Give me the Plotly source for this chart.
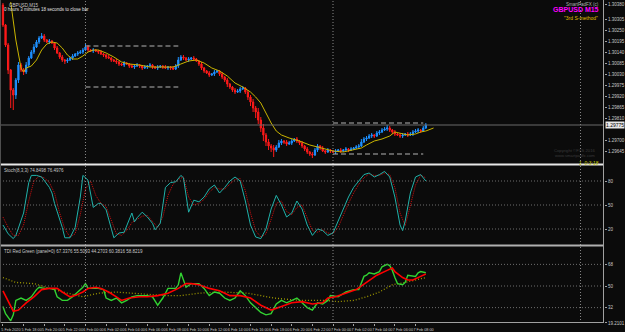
import plotly.graph_objects as go

# ---------------- data ----------------
closes = [
    1.30275, 1.30175, 1.30050, 1.29950, 1.29925, 1.30000, 1.30075, 1.30050, 1.30040, 1.30075,
    1.30110, 1.30140, 1.30165, 1.30190, 1.30210, 1.30220, 1.30200, 1.30190, 1.30195, 1.30185,
    1.30160, 1.30135, 1.30115, 1.30100, 1.30095, 1.30100, 1.30110, 1.30120, 1.30130, 1.30135,
    1.30140, 1.30150, 1.30165, 1.30150, 1.30145, 1.30150, 1.30145, 1.30140, 1.30130, 1.30125,
    1.30115, 1.30110, 1.30100, 1.30095, 1.30090, 1.30080, 1.30075, 1.30085, 1.30080, 1.30070,
    1.30065, 1.30070, 1.30075, 1.30070, 1.30060, 1.30065, 1.30070, 1.30075, 1.30065, 1.30060,
    1.30065, 1.30070, 1.30065, 1.30060, 1.30065, 1.30060, 1.30055, 1.30070, 1.30100, 1.30115,
    1.30110, 1.30100, 1.30105, 1.30110, 1.30105, 1.30095, 1.30080, 1.30060, 1.30045, 1.30035,
    1.30025, 1.30030, 1.30040, 1.30045, 1.30030, 1.30015, 1.30000, 1.29980, 1.29965, 1.29950,
    1.29940, 1.29945, 1.29955, 1.29960, 1.29940, 1.29915, 1.29890, 1.29860, 1.29840, 1.29800,
    1.29760, 1.29725, 1.29690, 1.29670, 1.29660, 1.29650, 1.29665, 1.29685, 1.29695, 1.29690,
    1.29680, 1.29685, 1.29695, 1.29705, 1.29695, 1.29685, 1.29670, 1.29655, 1.29640, 1.29630,
    1.29625, 1.29650, 1.29670, 1.29660, 1.29645, 1.29640, 1.29650, 1.29645, 1.29640, 1.29645,
    1.29650, 1.29645, 1.29650, 1.29655, 1.29650, 1.29655, 1.29660, 1.29665, 1.29670, 1.29690,
    1.29705, 1.29710, 1.29720, 1.29725, 1.29720, 1.29735, 1.29740, 1.29750, 1.29755, 1.29760,
    1.29750, 1.29740, 1.29730, 1.29725, 1.29720, 1.29725, 1.29730, 1.29725, 1.29730, 1.29740,
    1.29745, 1.29750, 1.29745, 1.29760, 1.29775]
first_open = 1.30375

upper_wick_pips = [
    1, 0.5, 1, 0.5, 1, 1, 1.5, 1, 1, 1.5,
    1, 1, 1.5, 1, 1, 1.5, 1, 0.5, 1, 0.5,
    0.5, 1, 0.5, 1, 0.5, 1, 0.5, 1, 0.5, 1,
    1, 1, 1.5, 1, 0.5, 1, 0.5, 0.5, 1, 0.5,
    0.5, 1, 0.5, 0.5, 1, 0.5, 0.5, 1, 0.5, 0.5,
    1, 0.5, 1, 0.5, 0.5, 1, 0.5, 1, 0.5, 0.5,
    1, 0.5, 0.5, 1, 0.5, 0.5, 1, 1, 1.5, 1,
    1, 0.5, 1, 0.5, 1, 0.5, 0.5, 1, 0.5, 0.5,
    1, 0.5, 1, 0.5, 0.5, 1, 0.5, 1, 0.5, 0.5,
    1, 1, 1, 1, 0.5, 1, 1, 1.5, 1, 2,
    1.5, 2, 1, 1.5, 1, 1.5, 1, 1.5, 1, 0.5,
    1, 1, 1, 0.5, 1, 0.5, 1, 0.5, 1, 0.5,
    1, 1, 1, 0.5, 1, 0.5, 1, 0.5, 0.5, 1,
    0.5, 1, 0.5, 1, 0.5, 1, 0.5, 1, 1, 1.5,
    1, 1, 1, 1, 0.5, 1, 1, 1, 1, 1.5,
    1, 0.5, 1, 0.5, 1, 1, 0.5, 1, 1, 1,
    1, 1, 0.5, 1, 1]
lower_wick_pips = [
    1, 1, 2, 9, 7.5, 2, 1.5, 1, 1.5, 1,
    1, 0.5, 1, 0.5, 1, 0.5, 1, 0.5, 1, 0.5,
    1, 0.5, 1, 1, 1.5, 1, 0.5, 1, 0.5, 1,
    0.5, 1, 0.5, 1, 0.5, 1, 0.5, 1, 0.5, 1,
    1, 0.5, 1, 0.5, 1, 1, 0.5, 1, 0.5, 1,
    0.5, 1, 0.5, 1, 1, 0.5, 1, 0.5, 1, 0.5,
    1, 0.5, 1, 0.5, 1, 1, 0.5, 0.5, 1, 0.5,
    1, 0.5, 1, 0.5, 1, 0.5, 1, 1, 1, 0.5,
    1, 0.5, 1, 0.5, 1, 1, 1, 1.5, 1, 1,
    1, 0.5, 1, 0.5, 1, 1.5, 2, 2, 3, 2,
    2, 3, 2, 2, 2, 3.5, 1, 0.5, 1, 1,
    1, 0.5, 1, 0.5, 1, 1, 1, 1, 1, 1,
    1.5, 0.5, 1, 1, 0.5, 1, 0.5, 1, 0.5, 1,
    0.5, 1, 0.5, 0.5, 1, 0.5, 0.5, 0.5, 1, 0.5,
    0.5, 1, 0.5, 1, 1, 0.5, 1, 0.5, 0.5, 1,
    1, 1, 1, 0.5, 1, 1, 0.5, 1, 0.5, 1,
    0.5, 1, 1, 0.5, 0.5]

ma_bars = [3, 5, 7, 8, 9, 11, 13, 15, 17, 19, 21, 23, 25, 27, 29, 31, 33, 35, 37, 40,
           43, 46, 49, 53, 57, 62, 66, 69, 72, 75, 78, 81, 84, 87, 90, 93, 96, 98, 100,
           102, 104, 106, 108, 111, 115, 119, 124, 128, 132, 136, 139, 141, 144, 147, 150,
           152, 154, 157, 160, 162, 164, 167]
ma_values = [1.30390, 1.30200, 1.30060, 1.30040, 1.30060, 1.30070, 1.30100, 1.30150, 1.30180,
             1.30190, 1.30185, 1.30160, 1.30125, 1.30105, 1.30105, 1.30120, 1.30140, 1.30150,
             1.30150, 1.30135, 1.30115, 1.30090, 1.30080, 1.30075, 1.30065, 1.30065, 1.30065,
             1.30080, 1.30095, 1.30100, 1.30085, 1.30060, 1.30045, 1.30020, 1.29985, 1.29965,
             1.29940, 1.29915, 1.29885, 1.29835, 1.29785, 1.29745, 1.29725, 1.29710, 1.29695,
             1.29675, 1.29660, 1.29645, 1.29640, 1.29650, 1.29660, 1.29675, 1.29695, 1.29705,
             1.29720, 1.29740, 1.29735, 1.29725, 1.29730, 1.29740, 1.29745, 1.29760]

stoch_k_bars = [0, 2, 4, 5, 8, 10, 11, 13, 15, 18, 19, 20, 23, 24, 26, 28, 30, 31, 33, 34,
                35, 37, 38, 40, 42, 43, 45, 47, 50, 51, 52, 54, 56, 58, 59, 61, 63, 65, 67,
                69, 70, 72, 74, 76, 78, 80, 82, 84, 86, 88, 90, 92, 94, 96, 98, 100, 102, 104,
                106, 108, 110, 112, 114, 116, 118, 120, 122, 124, 126, 128, 130, 132, 134, 136,
                138, 140, 142, 144, 146, 148, 150, 152, 154, 155, 156, 158, 160, 162, 164]
stoch_k = [25, 14, 8, 12, 40, 78, 87, 87, 85, 72, 65, 52, 22, 9, 9, 22, 60, 87, 81, 65,
           47, 52, 52, 44, 19, 9, 15, 16, 40, 29, 34, 41, 35, 27, 19, 27, 72, 78, 79,
           87, 84, 41, 56, 54, 60, 70, 75, 65, 72, 80, 85, 80, 55, 25, 10, 8, 20, 45,
           62, 50, 35, 40, 55, 45, 25, 12, 20, 18, 12, 15, 30, 45, 60, 72,
           80, 88, 90, 85, 88, 92, 85, 60, 25, 18, 30, 65, 85, 88, 80]
stoch_d_bars = [0, 2, 4, 6, 8, 10, 12, 14, 16, 18, 20, 22, 24, 26, 28, 30, 32, 34, 36, 38,
                40, 42, 44, 46, 48, 50, 52, 54, 56, 58, 60, 62, 64, 66, 68, 70, 72, 74, 76,
                78, 80, 82, 84, 86, 88, 90, 92, 94, 96, 98, 100, 102, 104, 106, 108, 110, 112,
                114, 116, 118, 120, 122, 124, 126, 128, 130, 132, 134, 136, 138, 140, 142, 144,
                146, 148, 150, 152, 154, 156, 158, 160, 162, 164]
stoch_d = [35, 22, 12, 12, 25, 55, 80, 86, 84, 78, 65, 40, 20, 10, 14, 38, 70, 80, 62, 52,
           48, 32, 14, 12, 18, 28, 32, 36, 37, 30, 22, 35, 62, 76, 82, 85, 60, 50, 52,
           57, 66, 72, 70, 70, 76, 82, 83, 68, 40, 18, 10, 14, 32, 52, 55, 42, 38,
           47, 50, 35, 18, 16, 19, 15, 14, 22, 38, 52, 65, 76, 84, 89, 87,
           87, 90, 88, 72, 40, 24, 48, 75, 87, 84]

tdi_rsi_bars = [0, 1, 3, 4, 5, 7, 9, 11, 13, 14, 16, 18, 20, 21, 23, 25, 27, 29, 31, 32,
                33, 35, 37, 39, 40, 42, 44, 46, 48, 50, 52, 54, 56, 58, 60, 62, 64, 67, 68,
                69, 71, 73, 76, 78, 80, 82, 84, 86, 88, 90, 92, 94, 96, 98, 100, 102, 104,
                106, 108, 110, 112, 114, 116, 118, 120, 122, 124, 126, 127, 129, 130, 133, 136,
                138, 140, 141, 142, 144, 145, 146, 147, 149, 150, 151, 152, 153, 155, 156, 157,
                159, 160, 161, 162, 164]
tdi_rsi = [33, 27, 21, 26, 38, 40, 38, 41, 47, 49, 48, 48, 47, 41, 38, 38, 41, 45, 49, 52,
           48, 48, 48, 47, 40, 38, 40, 36, 38, 41, 42, 42, 42, 41, 34, 40, 48, 48, 51,
           61, 49, 52, 52, 48, 42, 45, 44, 40, 38, 40, 46, 42, 36, 32, 28, 26, 27,
           35, 38, 36, 38, 40, 36, 32, 30, 36, 35, 38, 42, 41, 41, 45, 47,
           47, 58, 59, 61, 60, 61, 62, 66, 68, 67, 63, 57, 52, 51, 53, 59,
           58, 58, 61, 62, 61]
tdi_signal_bars = [0, 2, 4, 6, 9, 12, 15, 18, 21, 23, 26, 28, 31, 33, 36, 38, 41, 44, 46, 49,
                   53, 56, 60, 64, 68, 71, 73, 76, 80, 84, 88, 92, 96, 100, 104, 108, 112, 116,
                   120, 124, 126, 129, 133, 137, 141, 145, 149, 151, 152, 155, 157, 159, 162, 164]
tdi_signal = [46, 37, 29, 30, 36, 41, 47, 48, 48, 45, 41, 42, 45, 48, 49, 48, 45, 41, 38, 40,
              41, 41, 42, 44, 48, 52, 52, 51, 48, 46, 42, 42, 40, 34, 30, 33, 36, 37,
              35, 36, 40, 41, 44, 47, 53, 59, 63, 65, 62, 57, 55, 55, 58, 60]
tdi_base_bars = [0, 5, 12, 18, 25, 31, 37, 44, 50, 56, 63, 69, 76, 85, 95, 105, 115, 125, 130,
                 136, 141, 146, 151, 156, 160, 164]
tdi_base = [57, 53, 52, 48, 44, 41, 44, 45, 44, 43, 42, 42, 44, 45, 44, 40, 38, 38, 37,
            38, 41, 45, 51, 53, 55, 57]

price_ticks = [1.30380, 1.30305, 1.30250, 1.30195, 1.30140, 1.30085, 1.30030, 1.29975,
               1.29920, 1.29865, 1.29810, 1.29700, 1.29645]
stoch_levels = [80, 50, 20]
tdi_levels = [68, 50, 32]
tdi_extremes = [83.3094, 19.2101]

time_tick_bars = [0, 8, 16, 24, 32, 40, 48, 56, 64, 72, 80, 88, 96, 104, 112, 120, 128, 136,
                  144, 152, 160]
time_tick_labels = ["5 Feb 2020", "5 Feb 18:00", "5 Feb 20:00", "5 Feb 22:00", "6 Feb 00:00",
                    "6 Feb 02:00", "6 Feb 04:00", "6 Feb 06:00", "6 Feb 08:00", "6 Feb 10:00",
                    "6 Feb 12:00", "6 Feb 14:00", "6 Feb 16:00", "6 Feb 18:00", "6 Feb 20:00",
                    "6 Feb 22:00", "7 Feb 00:00", "7 Feb 02:00", "7 Feb 04:00", "7 Feb 06:00",
                    "7 Feb 08:00"]
day_separator_bars = [32, 128, 224]

box_ranges = [  # (start bar, end bar, high, low)
    (32, 68, 1.30170, 1.29965),
    (128, 163, 1.29785, 1.29630),
]

# ---------------- derived candle fields ----------------
bars = list(range(len(closes)))
opens = [first_open] + closes[:-1]
highs = [max(o, c) + u * 0.0001 for o, c, u in zip(opens, closes, upper_wick_pips)]
lows = [min(o, c) - l * 0.0001 for o, c, l in zip(opens, closes, lower_wick_pips)]
current_price = closes[-1]

# ---------------- layout geometry (pixels) ----------------
W, H = 625, 332
PW, PH = 610, 323  # plot area size


def fx(px):
    return px / PW


def fy(py):
    return (PH - py) / PH


BG = "#0b0b0b"
BLUE = "#1e90ff"
RED = "#ff1a1a"
TXT = "#c8c8c8"
FONT = "Liberation Sans"

fig = go.Figure()
fig.add_trace(go.Candlestick(
    x=bars, open=opens, high=highs, low=lows, close=closes,
    increasing=dict(line=dict(color=BLUE, width=1), fillcolor=BLUE),
    decreasing=dict(line=dict(color=RED, width=1), fillcolor=RED),
    whiskerwidth=0, xaxis="x", yaxis="y", showlegend=False))
fig.add_trace(go.Scatter(x=ma_bars, y=ma_values, mode="lines",
                         line=dict(color="#c9b400", width=1), yaxis="y", showlegend=False))

fig.add_trace(go.Scatter(x=stoch_d_bars, y=stoch_d, mode="lines",
                         line=dict(color="#d01010", width=1, dash="1px,1px"),
                         yaxis="y2", showlegend=False))
fig.add_trace(go.Scatter(x=stoch_k_bars, y=stoch_k, mode="lines",
                         line=dict(color="#20b2aa", width=1), yaxis="y2", showlegend=False))

fig.add_trace(go.Scatter(x=tdi_base_bars, y=tdi_base, mode="lines",
                         line=dict(color="#a09a00", width=1.3, dash="1px,2px"),
                         yaxis="y3", showlegend=False))
fig.add_trace(go.Scatter(x=tdi_rsi_bars, y=tdi_rsi, mode="lines",
                         line=dict(color="#32d232", width=1.4), yaxis="y3", showlegend=False))
fig.add_trace(go.Scatter(x=tdi_signal_bars, y=tdi_signal, mode="lines",
                         line=dict(color="#ff0000", width=1.6), yaxis="y3", showlegend=False))

shapes = []
grid_col = "#6e6e6e"
for lv in stoch_levels:
    shapes.append(dict(type="line", xref="paper", x0=0, x1=1, yref="y2", y0=lv, y1=lv,
                       line=dict(color=grid_col, width=1, dash="1px,2px")))
for lv in tdi_levels:
    shapes.append(dict(type="line", xref="paper", x0=0, x1=1, yref="y3", y0=lv, y1=lv,
                       line=dict(color=grid_col, width=1, dash="1px,2px")))
for b in day_separator_bars:
    shapes.append(dict(type="line", xref="x", x0=b, x1=b, yref="paper", y0=0, y1=1,
                       line=dict(color="#8a8a8a", width=1, dash="1px,2px")))
for (b0, b1, hi, lo) in box_ranges:
    for lv in (hi, lo):
        shapes.append(dict(type="line", xref="x", x0=b0, x1=b1, yref="y", y0=lv, y1=lv,
                           line=dict(color="#b4b4b4", width=1, dash="5px,3px")))
shapes.append(dict(type="line", xref="paper", x0=0, x1=1, yref="y", y0=current_price,
                   y1=current_price, line=dict(color="#6a6a6a", width=1)))
# panel borders
shapes.append(dict(type="line", xref="paper", x0=0, x1=1, yref="paper", y0=fy(164.5), y1=fy(164.5),
                   line=dict(color="#e8e8e8", width=2)))
shapes.append(dict(type="line", xref="paper", x0=0, x1=1, yref="paper", y0=fy(245.5), y1=fy(245.5),
                   line=dict(color="#b0b0b0", width=2)))
shapes.append(dict(type="line", xref="paper", x0=0, x1=1, yref="paper", y0=fy(322.5), y1=fy(322.5),
                   line=dict(color="#a0a0a0", width=1)))
shapes.append(dict(type="line", xref="paper", x0=fx(609.5), x1=fx(609.5), yref="paper", y0=fy(323), y1=1,
                   line=dict(color="#a0a0a0", width=1)))
shapes.append(dict(type="line", xref="paper", x0=fx(0.5), x1=fx(0.5), yref="paper", y0=fy(323), y1=1,
                   line=dict(color="#505050", width=1)))


def ann(text, px, py, size, color, xanchor="left", bold=False):
    t = f"<b>{text}</b>" if bold else text
    return dict(text=t, xref="paper", yref="paper", x=fx(px), y=fy(py), xanchor=xanchor,
                yanchor="top", showarrow=False, font=dict(size=size, color=color, family=FONT))


copyright_ann = ann("Copyright ©FXS 2016<br>www.smartpadfx.com", 603, 146, 4.2, "#3a3a3a",
                    xanchor="right")
copyright_ann["align"] = "right"

annotations = [
    ann("GBPUSD,M15", 7, 0.5, 4.5, TXT),
    ann("0 hours 3 minutes 18 seconds to close bar", 2, 4.5, 4.5, "#e0e0e0"),
    ann("SmartPadFX (c)", 607, 0, 4.5, "#b0b0b0", xanchor="right"),
    ann("GBPUSD M15", 607, 4, 7, "#ff00ff", xanchor="right", bold=True),
    ann("\"3rd S-method\"", 606, 12.5, 5, "#e0c000", xanchor="right"),
    copyright_ann,
    ann("1  0:3:18", 607, 158, 5, "#c8c800", xanchor="right"),
    ann("Stoch(8,3,3) 74.8498 76.4976", 2, 166, 4.5, TXT),
    ann("TDI Red Green (panel=0) 67.3376 55.5093 44.2703 60.3816 58.8219", 2, 247, 4.5, TXT),
    dict(text=f"{current_price:.5f}", xref="paper", yref="y", x=fx(611), y=current_price,
         xanchor="left", yanchor="middle", showarrow=False, bgcolor="#e8e8e8", borderpad=0,
         font=dict(size=5, color="#000000", family=FONT)),
]

axis_common = dict(showgrid=False, zeroline=False, showline=False, fixedrange=True,
                   ticks="outside", ticklen=2, tickcolor="#a0a0a0",
                   tickfont=dict(size=4.5, color=TXT, family=FONT))

fig.update_layout(
    width=W, height=H, margin=dict(l=0, r=W - PW, t=0, b=H - PH),
    paper_bgcolor=BG, plot_bgcolor=BG, showlegend=False,
    xaxis=dict(range=[-1.152, 233.1], anchor="y3", tickvals=time_tick_bars,
               ticktext=time_tick_labels, rangeslider=dict(visible=False),
               tickangle=0, ticklabelshift=8, ticklabelstandoff=0,
               **{**axis_common, "tickfont": dict(size=3.8, color=TXT, family=FONT)}),
    yaxis=dict(domain=[fy(164), 1], range=[1.29580, 1.30400], anchor="x", side="right",
               tickvals=price_ticks, ticktext=[f"{p:.5f}" for p in price_ticks], **axis_common),
    yaxis2=dict(domain=[fy(245), fy(165)], range=[0, 100], anchor="x", side="right",
                tickvals=stoch_levels, ticktext=[str(v) for v in stoch_levels], **axis_common),
    yaxis3=dict(domain=[0, fy(246)], range=[19.2, 83.3], anchor="x", side="right",
                tickvals=tdi_levels + tdi_extremes,
                ticktext=[str(v) for v in tdi_levels] + [f"{v:.4f}" for v in tdi_extremes],
                **axis_common),
    shapes=shapes, annotations=annotations,
)

fig.write_html("out.html")
